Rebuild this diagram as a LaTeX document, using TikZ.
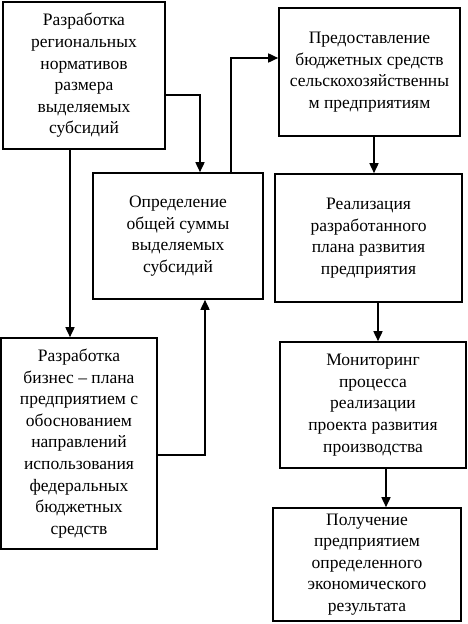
\documentclass[tikz,border=0pt]{standalone}
\usepackage{fontspec}
\setmainfont{Liberation Serif}
\usetikzlibrary{arrows.meta}
\tikzset{
  box/.style={draw, line width=1.6pt, rectangle, align=center, inner sep=2pt,
    font=\rmfamily\fontsize{17.5}{21.6}\selectfont},
  arr/.style={line width=1.6pt, -{Triangle[width=9pt,length=10pt]}},
  ln/.style={line width=1.6pt}
}
\begin{document}
\begin{tikzpicture}[x=1pt,y=-1pt]
\useasboundingbox (0,0) rectangle (468,624);
\node[box, minimum width=162pt, minimum height=147pt] (a) at (84,75.5)
  {Разработка\\региональных\\нормативов\\размера\\выделяемых\\субсидий};
\node[box, minimum width=170pt, minimum height=126pt] (b) at (178,236)
  {Определение\\общей суммы\\выделяемых\\субсидий};
\node[box, minimum width=181pt, minimum height=128pt] (c) at (369.5,72)
  {Предоставление\\бюджетных средств\\сельскохозяйственны\\м предприятиям};
\node[box, minimum width=187pt, minimum height=128pt] (e) at (368.5,238)
  {Реализация\\разработанного\\плана развития\\предприятия};
\node[box, minimum width=186pt, minimum height=126pt] (f) at (373,405)
  {Мониторинг\\процесса\\реализации\\проекта развития\\производства};
\node[box, minimum width=188pt, minimum height=113pt] (g) at (367,564.5)
  {Получение\\предприятием\\определенного\\экономического\\результата};
\node[box, minimum width=156pt, minimum height=211pt] (d) at (79,443.5)
  {Разработка\\бизнес – плана\\предприятием с\\обоснованием\\направлений\\использования\\федеральных\\бюджетных\\средств};
\coordinate (ab) at (200,95);
\coordinate (ad) at (70,0);
\coordinate (bc) at (231,58);
\coordinate (ce) at (374,0);
\coordinate (ef) at (378,0);
\coordinate (fg) at (386,0);
\coordinate (db) at (205,455);
\draw[arr] (a.east |- ab) -| (b.north -| ab);
\draw[arr] (a.south -| ad) -- (d.north -| ad);
\draw[arr] (b.north -| bc) |- (c.west |- bc);
\draw[arr] (c.south -| ce) -- (e.north -| ce);
\draw[arr] (e.south -| ef) -- (f.north -| ef);
\draw[arr] (f.south -| fg) -- (g.north -| fg);
\draw[arr] (d.east |- db) -| (b.south -| db);
\end{tikzpicture}
\end{document}
